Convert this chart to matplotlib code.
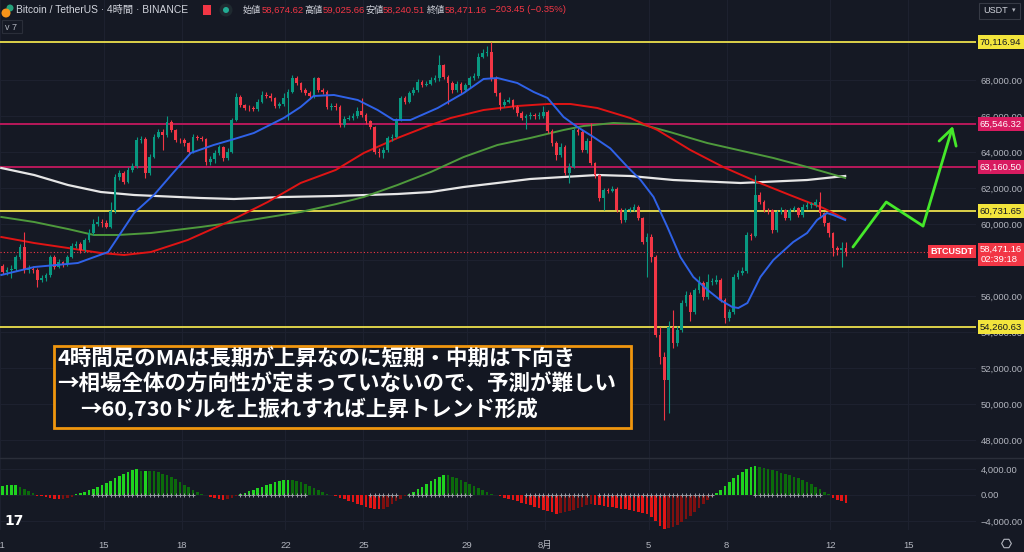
import matplotlib
matplotlib.use('Agg')
import matplotlib.pyplot as plt
import numpy as np
from matplotlib.patches import Rectangle, Ellipse
from matplotlib.transforms import blended_transform_factory

plt.rcParams['font.family'] = ['Liberation Sans', 'Noto Sans CJK JP', 'DejaVu Sans']

# ==========================================
# data (4h candles, BTC/USDT, 11 Jul - 12 Aug)
# ==========================================
first_open = 57650
closes = [57350, 57450, 57500, 58180, 58740, 57450, 57500, 57450, 56890, 57000,
          57150, 58180, 57630, 57900, 57750, 58180, 58800, 58900, 58550, 59100,
          59500, 60000, 60100, 60050, 59850, 60700, 62630, 62815, 62350, 63000,
          63200, 64670, 64700, 62815, 63740, 64850, 65130, 64950, 65690, 65220,
          64670, 64650, 64480, 64020, 64850, 64800, 64720, 63460, 63600, 63930,
          64300, 63650, 64020, 65780, 67070, 66610, 66470, 66420, 66400, 66800,
          67170, 67120, 66980, 66560, 66650, 66980, 67350, 68090, 67810, 67450,
          67300, 67110, 68090, 67450, 67350, 66500, 66520, 66500, 65500, 65850,
          65900, 66000, 66280, 66050, 65700, 65400, 64020, 63930, 64100, 64760,
          64850, 65780, 66980, 66800, 67260, 67450, 67900, 67720, 67800, 68000,
          68090, 68830, 68190, 67850, 67450, 67800, 67450, 67700, 68090, 68200,
          69300, 69480, 69570, 68100, 67260, 66630, 66800, 66870, 66500, 66150,
          65870, 65980, 66050, 66000, 66000, 66200, 65150, 64500, 63850, 64300,
          62815, 63190, 65220, 65100, 64110, 64600, 63370, 62720, 61430, 61890,
          61850, 61950, 60780, 60220, 60780, 60800, 60950, 60320, 59020, 59300,
          58190, 53830, 52630, 51330, 54300, 53370, 54110, 55590, 56060, 55130,
          56330, 56700, 55960, 56800, 56800, 56890, 55780, 54760, 55130, 57070,
          57260, 57400, 59390, 59350, 61610, 61240, 60780, 60750, 59670, 60690,
          60780, 60320, 60780, 60870, 60500, 60960, 61050, 61050, 61240, 60590,
          60040, 59480, 58650, 58560, 58674.62, 58471.16]
highs = [57800, 57600, 57700, 58300, 58900, 59570, 57700, 57650, 57550, 57150,
         57300, 58300, 58250, 58050, 57950, 58300, 58950, 59050, 59000, 59200,
         59700, 60300, 60450, 60250, 60200, 61200, 62800, 63000, 62950, 63150,
         63400, 64850, 64900, 64850, 63900, 65000, 65300, 65250, 65990, 65800,
         65300, 64800, 64750, 64550, 65000, 64950, 64900, 64800, 63800, 64100,
         64400, 64350, 64200, 65900, 67250, 67150, 66650, 66600, 66550, 66950,
         67400, 67350, 67250, 67050, 66800, 67300, 67500, 68300, 68200, 67900,
         67550, 67400, 68150, 68150, 67550, 67450, 66700, 66700, 66600, 66000,
         66050, 66150, 66500, 67000, 66150, 65800, 65450, 64200, 64250, 64900,
         65000, 65900, 67100, 67100, 67400, 67600, 68050, 68000, 67950, 68150,
         68300, 69380, 68900, 68300, 67950, 67950, 67900, 67850, 68200, 68400,
         69500, 69700, 69900, 70100, 68200, 67350, 66950, 67050, 66950, 66600,
         66250, 66100, 66200, 66150, 66200, 66550, 66350, 65250, 64600, 64500,
         64400, 63400, 65350, 65400, 65200, 64750, 65600, 63450, 62800, 62000,
         62000, 62100, 62050, 60900, 60900, 60950, 61100, 61050, 60400, 59500,
         59450, 58300, 54300, 52900, 54600, 55200, 54350, 55750, 56300, 56200,
         56450, 57100, 56850, 57200, 57000, 57150, 57000, 55900, 55300, 57200,
         57450, 57600, 59550, 59500, 62720, 61750, 61350, 60900, 60850, 60800,
         60950, 60850, 60900, 61000, 60950, 61100, 61200, 61200, 61400, 61800,
         60650, 60100, 59550, 58800, 59000, 59025.66]
lows = [57200, 57150, 56980, 57400, 58050, 57300, 57250, 57300, 56520, 56750,
        56850, 57050, 57500, 57550, 57600, 57650, 58100, 58650, 58400, 58450,
        59000, 59400, 59900, 59850, 59750, 59800, 60600, 62450, 62200, 62250,
        62900, 63100, 64500, 62550, 62700, 63650, 64750, 64100, 64850, 65100,
        64550, 64500, 64350, 63900, 63950, 64650, 64600, 63300, 63300, 63400,
        63850, 63500, 63550, 63950, 65700, 66500, 66350, 66300, 66250, 66300,
        66700, 67000, 66850, 66450, 66450, 66550, 65800, 67250, 67700, 67350,
        67150, 66950, 67000, 67350, 67200, 66400, 66350, 66350, 65400, 65400,
        65750, 65800, 65900, 65950, 65550, 65250, 63900, 63700, 63650, 64000,
        64600, 64750, 65700, 66650, 66700, 67150, 67350, 67600, 67650, 67700,
        67900, 67950, 68050, 66650, 67300, 67350, 67300, 67350, 67600, 68000,
        68100, 69200, 69350, 67950, 67100, 66350, 66500, 66700, 66400, 66000,
        65750, 65250, 65850, 65850, 65850, 65900, 65050, 64350, 63550, 63700,
        62700, 62250, 63100, 64950, 64000, 63950, 63250, 62550, 61300, 60800,
        61700, 61750, 60650, 60050, 60100, 60650, 60700, 60200, 58900, 57070,
        57900, 53700, 52200, 49100, 49500, 53100, 53200, 54000, 55450, 54600,
        55000, 56150, 55800, 55850, 56600, 56650, 55650, 54500, 54600, 55000,
        56950, 57150, 57300, 59100, 59250, 61100, 60650, 60550, 59500, 59550,
        60550, 60200, 60200, 60700, 60400, 60400, 60850, 60900, 60950, 60450,
        59900, 59300, 58200, 58300, 57630, 58240.51]

# moving averages, sampled at candle positions
blue_idx = [-0.3, 7.3, 17.4, 24.4, 30.4, 35, 39.6, 43.5, 48.8, 52.8, 58.1, 65, 68.9,
            71.9, 76.6, 82.1, 86.7, 90.4, 94.3, 100.6, 106.6, 111.2, 114.4, 119,
            122.8, 126, 129.7, 132.9, 136.6, 140.5, 144.5, 147.5, 150.5, 153.7,
            156.7, 159.7, 163, 165.9, 168.7, 170.1, 172.2, 175.2, 178.2, 182.8,
            186, 188.3, 190.6, 192, 194.8]
blue_ma = [57167, 57610, 57833, 58444, 60611, 61611, 62889, 63944, 64389, 64667, 65056,
           65889, 66500, 67111, 67167, 66889, 66333, 65778, 65778, 66444, 67278, 68056,
           68111, 67833, 67333, 67000, 65944, 65389, 64833, 64200, 63167, 62444, 61500,
           59833, 58167, 57056, 56333, 55778, 55389, 55333, 55611, 57056, 58000, 59000,
           59500, 60222, 60611, 60500, 60222]
red_idx = [-0.3, 7.3, 15.1, 22.7, 28.1, 34.3, 42.8, 52.1, 61.3, 68.9, 77, 83.5, 91.3,
           99, 103.6, 111.2, 119, 126, 131.3, 137.5, 145.1, 151.4, 159, 166.6, 174.5,
           182, 189.7, 194.8]
red_ma = [59278, 58944, 58667, 58389, 58278, 58444, 59111, 60111, 61222, 62278, 63000,
          63944, 64778, 65500, 65889, 66333, 66556, 66667, 66667, 66444, 65889, 65222,
          64111, 63167, 62333, 61611, 60889, 60278]
green_idx = [-0.3, 7.3, 15.1, 21.1, 26.7, 34.3, 45.8, 57.4, 68.9, 77, 83.5, 91.3, 99,
             106.6, 114.4, 122, 129.7, 134.3, 141.2, 147.5, 154.4, 162.9, 178.2, 186, 194.8]
green_ma = [60389, 60111, 59722, 59389, 59389, 59500, 59833, 60222, 60667, 61100, 61500,
            62167, 62889, 63722, 64389, 64778, 65222, 65444, 65611, 65550, 65100, 64500,
            63667, 63167, 62556]
white_idx = [-0.3, 7.3, 15.1, 22.7, 30.4, 45.8, 53.5, 65, 77, 91.3, 99, 106.6, 114.4,
             122, 129.7, 137.5, 145.1, 155.1, 170.6, 186, 194.8]
white_ma = [63111, 62722, 62167, 61778, 61611, 61444, 61389, 61500, 61556, 61667, 61778,
            62056, 62278, 62500, 62611, 62722, 62667, 62444, 62278, 62444, 62667]

# squeeze momentum histogram
hist_vals = [1400, 1480, 1520, 1540, 1300, 950, 600, 250,
             -80,
             -200, -350, -480, -580, -640, -600, -450, -250,
             80, 250, 450, 700, 950, 1250, 1550, 1850, 2200, 2550, 2900, 3250, 3550, 3800, 4000,
             3700, 3750, 3700, 3650, 3500, 3300, 3050, 2750, 2400, 2000, 1600, 1200, 800, 450, 150,
             -50,
             -250, -450, -600, -700, -600, -400, -200,
             100, 300, 550, 800, 1050, 1300, 1550, 1750, 1950, 2100, 2250, 2340,
             2300, 2150, 1950, 1700, 1400, 1100, 800, 450, 150,
             -50,
             -200, -400, -600, -850, -1100, -1350, -1600, -1800, -2000, -2150, -2230,
             -2100, -1800, -1400, -1000, -600, -200,
             150, 500, 900, 1300, 1700, 2100, 2500, 2800, 3060,
             3000, 2800, 2550, 2300, 2000, 1700, 1400, 1050, 700, 400, 100,
             -50,
             -200, -400, -600, -800, -1000, -1200, -1400, -1600, -1800, -2000, -2250, -2450, -2650, -2860,
             -2800, -2650, -2450, -2250, -2000, -1800, -1600, -1450,
             -1500, -1600, -1700, -1800, -1900, -2000, -2100, -2200, -2300, -2400, -2550, -2700,
             -2900, -3400, -4000, -4700, -5240,
             -5150, -4950, -4600, -4200, -3700, -3200, -2600, -2000, -1400, -800, -300,
             300, 800, 1400, 2000, 2600, 3100, 3600, 3950, 4250, 4400,
             4350, 4200, 4050, 3850, 3650, 3450, 3250, 3050, 2800, 2550, 2300, 2000, 1650, 1300,
             900, 500, 150,
             -400, -700, -1000, -1300]
squeeze_off = [(21, 44), (55, 70), (85, 91), (94, 108), (121, 135), (138, 164), (174, 189)]

# horizontal levels
yellow_levels = [70116.94, 60731.65, 54260.63]
pink_levels = [65546.32, 63160.50]
last_price = 58471.16

# hand-drawn forecast arrow
arrow_idx = [196.6, 204.3, 212.8, 219.7]
arrow_price = [58722, 61222, 59889, 65444]

tick_days = [0, 4, 7, 11, 14, 18, 21, 25, 28, 32, 35]
tick_labels = ['11', '15', '18', '22', '25', '29', '8月', '5', '8', '12', '15']

# ==========================================
# figure
# ==========================================
W, H = 1024, 552
BG = '#151924'
TXT = '#b2b5be'
GRID = '#1e2230'
UP, DOWN = '#089981', '#f23645'

fig = plt.figure(figsize=(W / 100, H / 100), dpi=100, facecolor=BG)
ax = fig.add_axes([0, 1 - 458 / H, 976 / W, 458 / H], facecolor=BG)
ax2 = fig.add_axes([0, 1 - 530 / H, 976 / W, 72 / H], facecolor=BG)

xmin, xmax = -0.35, 225.05
tick_pos = [6 * d - 0.6 for d in tick_days]

for a in (ax, ax2):
    a.set_xlim(xmin, xmax)
    for s in a.spines.values():
        s.set_visible(False)
    a.yaxis.tick_right()
    a.tick_params(length=0, colors=TXT, labelsize=6.8)
    a.set_xticks(tick_pos)
    a.grid(True, color=GRID, lw=0.7)
    a.set_axisbelow(True)

ax.set_ylim(47000, 72444)
ax.set_yticks(range(48000, 70000, 2000))
ax.set_yticklabels([f'{v:,.2f}' for v in range(48000, 70000, 2000)])
ax.tick_params(axis='y', pad=3.5)
ax.set_xticklabels([])

# candles
n = len(closes)
idx = np.arange(n)
opens = np.array([first_open] + closes[:-1])
c = np.array(closes)
colors = [UP if cl >= op else DOWN for op, cl in zip(opens, c)]
ax.vlines(idx, lows, highs, colors=colors, lw=0.8, zorder=3)
body = np.maximum(np.abs(c - opens), 40)
ax.bar(idx, body, bottom=np.minimum(opens, c), width=0.62, color=colors, zorder=4)

# moving averages
ax.plot(white_idx, white_ma, color='#e6e6e6', lw=1.6, zorder=2)
ax.plot(green_idx, green_ma, color='#4e9a3c', lw=1.4, zorder=2)
ax.plot(red_idx, red_ma, color='#e01414', lw=1.4, zorder=2)
ax.plot(blue_idx, blue_ma, color='#2f62e8', lw=1.4, zorder=5)

# levels
btr = blended_transform_factory(ax.transAxes, ax.transData)
for lv in yellow_levels:
    ax.axhline(lv, color='#ddd24a', lw=1.4, zorder=1)
    ax.text(1.004, lv, f'{lv:,.2f}', transform=btr, ha='left', va='center', fontsize=6.8,
            color='#131722', clip_on=False, zorder=10,
            bbox=dict(boxstyle='square,pad=0.25', fc='#f3e53c', ec='none'))
for lv in pink_levels:
    ax.axhline(lv, color='#b8185a', lw=1.4, zorder=1)
    ax.text(1.004, lv, f'{lv:,.2f}', transform=btr, ha='left', va='center', fontsize=6.8,
            color='white', clip_on=False, zorder=10,
            bbox=dict(boxstyle='square,pad=0.25', fc='#d81b60', ec='none'))

ax.axhline(last_price, color=DOWN, lw=0.8, ls=(0, (1, 2)), zorder=1)
ax.annotate(f'{last_price:,.2f}\n02:39:18', xy=(1.0, last_price), xycoords=btr,
            xytext=(3, 4.5), textcoords='offset points', ha='left', va='top', fontsize=6.8,
            color='white', linespacing=1.1, annotation_clip=False, zorder=10,
            bbox=dict(boxstyle='square,pad=0.25', fc=DOWN, ec='none'))
ax.text(0.9975, last_price, 'BTCUSDT', transform=btr, ha='right', va='center',
        fontsize=6.5, color='white', weight='bold', zorder=10,
        bbox=dict(boxstyle='square,pad=0.25', fc=DOWN, ec='none'))

# forecast arrow
ax.plot(arrow_idx[:-1], arrow_price[:-1], color='#45e82a', lw=2, zorder=6,
        solid_capstyle='round')
ax.annotate('', xy=(arrow_idx[-1], arrow_price[-1]), xytext=(arrow_idx[-2], arrow_price[-2]),
            arrowprops=dict(arrowstyle='->,head_length=0.7,head_width=0.4', color='#45e82a',
                            lw=2, mutation_scale=16, shrinkA=0, shrinkB=0), zorder=6)

# histogram
hv = np.array(hist_vals)
prev = np.concatenate([[hv[0]], hv[:-1]])
hcol = []
for v, p in zip(hv, prev):
    if v >= 0:
        hcol.append('#1fd31f' if v >= p else '#0c6a0c')
    else:
        hcol.append('#e31515' if v <= p else '#7e1010')
ax2.bar(np.arange(len(hv)), hv, width=0.6, color=hcol, zorder=3)
for a0, a1 in squeeze_off:
    xs = np.arange(a0, a1 + 1)
    ax2.scatter(xs, np.zeros(len(xs)), marker='+', s=10, color='#9a9da6', lw=0.7, zorder=4)

ax2.set_ylim(-5385, 5690)
ax2.set_yticks([4000, 0, -4000])
ax2.set_yticklabels(['4,000.00', '0.00', '\u22124,000.00'])
ax2.tick_params(axis='y', pad=3.5)
ax2.set_xticklabels(tick_labels)
ax2.tick_params(axis='x', pad=8)


# ==========================================
# overlay: header, boxes, annotation
# ==========================================
def fx(x):
    return x / W


def fy(y):
    return 1 - y / H


fig.add_artist(plt.Line2D([0, 1], [fy(458), fy(458)], color='#2a2e39', lw=1))

fig.add_artist(Ellipse((fx(10), fy(8)), 7 / W, 7 / H, fc='#26a17b', ec='none'))
fig.add_artist(Ellipse((fx(6), fy(13)), 9 / W, 9 / H, fc='#f7931a', ec='none'))
fig.text(fx(16), fy(10), 'Bitcoin / TetherUS · 4時間 · BINANCE', fontsize=7.4,
         color='#d1d4dc', va='center')
fig.add_artist(Rectangle((fx(203), fy(15)), 8 / W, 10 / H, fc='#f23645', ec='none'))
fig.add_artist(Ellipse((fx(226), fy(10)), 13 / W, 13 / H, fc='#1f2a30', ec='none'))
fig.add_artist(Ellipse((fx(226), fy(10)), 6 / W, 6 / H, fc='#22ab94', ec='none'))

ohlc = [('始値', '58,674.62', 243, 262), ('高値', '59,025.66', 304, 323),
        ('安値', '58,240.51', 365, 383), ('終値', '58,471.16', 427, 445)]
for lab, val, xl, xv in ohlc:
    fig.text(fx(xl), fy(10), lab, fontsize=6.6, color='#d1d4dc', va='center',
             family=['Noto Sans CJK JP'])
    fig.text(fx(xv), fy(10), val, fontsize=6.8, color=DOWN, va='center')
fig.text(fx(490), fy(10), '\u2212203.45 (\u22120.35%)', fontsize=6.8, color=DOWN, va='center')

fig.add_artist(Rectangle((fx(2), fy(33)), 20 / W, 13 / H, fc=BG, ec='#2a2e39', lw=0.8))
fig.text(fx(5), fy(27), 'v 7', fontsize=6.5, color=TXT, va='center')
fig.add_artist(Rectangle((fx(979), fy(19)), 41 / W, 16 / H, fc=BG, ec='#363a45', lw=0.8))
fig.text(fx(983), fy(10.5), 'USDT', fontsize=6.5, color='#d1d4dc', va='center')
fig.text(fx(1012), fy(10.5), '▾', fontsize=5, color=TXT, va='center', family=['DejaVu Sans'])

fig.text(fx(4), fy(521), '17', fontsize=10, color='white', weight='bold', va='center',
         family=['DejaVu Sans'])
fig.add_artist(plt.Line2D([fx(1006)], [fy(543)], marker='H', ms=7, mfc='none',
                          mec=TXT, mew=0.8))

# comment box
fig.add_artist(Rectangle((fx(54), fy(428)), 577 / W, 82 / H, fc='#131722',
                         ec='#f0960e', lw=2, zorder=20))
notes = [('4時間足のMAは長期が上昇なのに短期・中期は下向き', 57, 359),
         ('→相場全体の方向性が定まっていないので、予測が難しい', 57, 384),
         ('→60,730ドルを上振れすれば上昇トレンド形成', 80, 409)]
for txt, x0, y0 in notes:
    fig.text(fx(x0), fy(y0), txt, fontsize=15.5, color='white', weight='bold',
             va='center', ha='left', zorder=21, family=['Noto Sans CJK JP'])

fig.savefig('out.png', dpi=100, facecolor=BG)
